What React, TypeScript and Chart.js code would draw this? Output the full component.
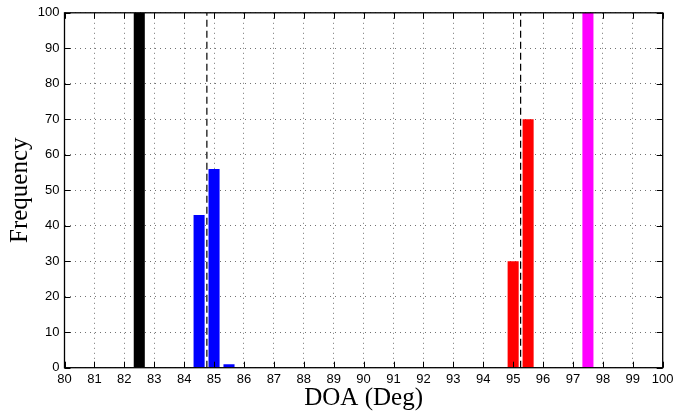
import { useEffect, useRef } from 'react';
import { Chart, registerables } from 'chart.js';

Chart.register(...registerables);

// DOA histogram values
const barPositions = [82.5, 84.5, 85, 85.5, 95, 95.5, 97.5];
const barFrequencies = [100, 43, 56, 1, 30, 70, 100];
const barColors = ['#000000', '#0000ff', '#0000ff', '#0000ff', '#ff0000', '#ff0000', '#ff00ff'];
// true DOA reference lines (dashed)
const trueDoas = [84.76, 95.25];

const xMin = 80;
const xMax = 100;
const xStep = 1;
const yMin = 0;
const yMax = 100;
const yStep = 10;

const xTitle = 'DOA (Deg)';
const yTitle = 'Frequency';

const framePlugin = {
  id: 'matlabFrame',
  afterDraw(chart: any) {
    const { ctx, chartArea, scales } = chart;
    const { left, right, top, bottom } = chartArea;
    const tl = 6;
    ctx.save();
    ctx.setLineDash([]);
    ctx.strokeStyle = '#000';
    ctx.lineWidth = 1;
    ctx.beginPath();
    scales.x.ticks.forEach((t: any) => {
      const px = Math.round(scales.x.getPixelForValue(t.value)) + 0.5;
      ctx.moveTo(px, bottom);
      ctx.lineTo(px, bottom - tl);
      ctx.moveTo(px, top);
      ctx.lineTo(px, top + tl);
    });
    scales.y.ticks.forEach((t: any) => {
      const py = Math.round(scales.y.getPixelForValue(t.value)) + 0.5;
      ctx.moveTo(left, py);
      ctx.lineTo(left + tl, py);
      ctx.moveTo(right, py);
      ctx.lineTo(right - tl, py);
    });
    ctx.stroke();
    ctx.lineWidth = 1.3;
    ctx.strokeRect(left, top, right - left, bottom - top);
    ctx.restore();
  },
};

export default function App() {
  const canvasRef = useRef<HTMLCanvasElement | null>(null);

  useEffect(() => {
    const canvas = canvasRef.current;
    if (!canvas) return;

    const barData = barPositions.map((x, i) => ({ x, y: barFrequencies[i] }));
    const lineSets = trueDoas.map((d) => ({
      type: 'line' as const,
      data: [
        { x: d, y: yMin },
        { x: d, y: yMax },
      ],
      borderColor: '#000',
      borderWidth: 1.2,
      borderDash: [7, 4],
      pointRadius: 0,
      fill: false,
      order: 0,
    }));

    const gridColor = 'rgba(0,0,0,0.55)';

    const chart = new Chart(canvas, {
      type: 'bar',
      data: {
        datasets: [
          {
            type: 'bar',
            data: barData as any,
            backgroundColor: barColors,
            borderWidth: 0,
            barPercentage: 0.74,
            categoryPercentage: 1,
            order: 1,
          } as any,
          ...(lineSets as any[]),
        ],
      },
      options: {
        responsive: false,
        animation: false,
        events: [],
        layout: { padding: { left: 0, top: 9.5, right: 34.3, bottom: 0 } },
        plugins: {
          legend: { display: false },
          tooltip: { enabled: false },
        },
        scales: {
          x: {
            type: 'linear',
            min: xMin,
            max: xMax,
            offset: false,
            grid: {
              color: gridColor,
              lineWidth: 1,
              drawTicks: false,
              offset: false,
            },
            border: { display: false, dash: [1, 4] },
            ticks: {
              stepSize: xStep,
              autoSkip: false,
              maxRotation: 0,
              padding: 4,
              color: '#000',
              font: { family: 'Liberation Sans, Arial, sans-serif', size: 13 },
            },
            title: {
              display: true,
              text: xTitle,
              color: '#000',
              font: { family: 'Liberation Serif, serif', size: 25 },
              padding: { top: 0, bottom: 3.5 },
            },
            afterFit(scale: any) {
              scale.height = 49.3;
            },
          },
          y: {
            type: 'linear',
            min: yMin,
            max: yMax,
            grid: {
              color: gridColor,
              lineWidth: 1,
              drawTicks: false,
            },
            border: { display: false, dash: [1, 4] },
            ticks: {
              stepSize: yStep,
              padding: 5,
              color: '#000',
              font: { family: 'Liberation Sans, Arial, sans-serif', size: 13 },
            },
            title: {
              display: true,
              text: yTitle,
              color: '#000',
              font: { family: 'Liberation Serif, serif', size: 25 },
              padding: { top: 5.5, bottom: 0 },
            },
            afterFit(scale: any) {
              scale.width = 64.5;
            },
          },
        },
      },
      plugins: [framePlugin],
    });

    return () => {
      chart.destroy();
    };
  }, []);

  return (
    <div style={{ position: 'fixed', left: 0, top: 0, width: 697, height: 417, background: '#fff' }}>
      <canvas ref={canvasRef} width={697} height={417} />
    </div>
  );
}
